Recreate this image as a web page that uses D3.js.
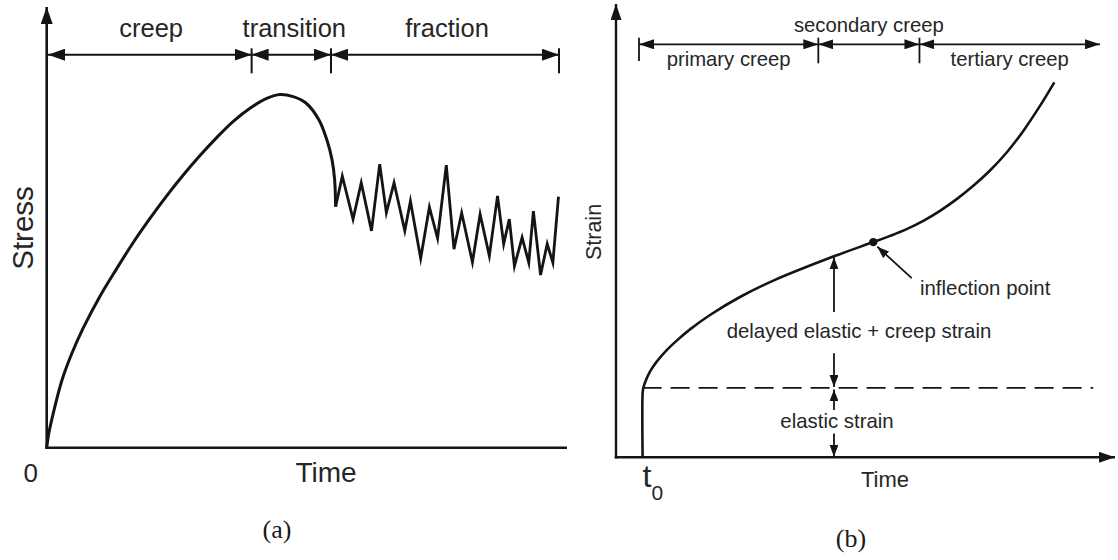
<!DOCTYPE html>
<html>
<head>
<meta charset="utf-8">
<title>Creep behaviour: stress and strain versus time</title>
<script src="https://cdn.jsdelivr.net/npm/d3@7/dist/d3.min.js"></script>
<style>
  html, body { margin: 0; padding: 0; background: #fff; }
  svg { display: block; }
  text { font-family: "Liberation Sans", Arial, Helvetica, sans-serif; fill: #262626; }
  text.serif { font-family: "Liberation Serif", "DejaVu Serif", serif; fill: #1a1a1a; }
</style>
</head>
<body>
<svg id="chart" width="1118" height="560"></svg>
<script>
// ---------------- data: panel (a) stress vs. time ----------------
// smooth rise to peak and drop into the fracture regime  [time, stress]
const stressRise = [
  [0, 0], [0.45, 4.4], [1.29, 9.8], [2.93, 18.9], [4.94, 26.8], [7.14, 33.9],
  [10.40, 42.9], [13.66, 50.7], [16.90, 58.1], [20.16, 64.9], [23.42, 71.3],
  [26.66, 77.2], [29.92, 82.7], [33.18, 87.8], [36.42, 92.4], [39.68, 96.1],
  [42.94, 98.9], [45.54, 100], [48.1, 99.4], [50.6, 97.6], [53.15, 92.8],
  [54.7, 87.1], [55.7, 81.5], [56.2, 75.9], [56.4, 68.2]
];
// saw-tooth stress during fracture  [time, stress]
const stressFracture = [
  [56.4, 68.2], [57.7, 76.9], [59.8, 64.7], [61.4, 75.0], [63.4, 61.4],
  [65.0, 80.3], [66.3, 66.5], [67.8, 75.0], [69.9, 61.4], [71.0, 69.8],
  [73.0, 53.6], [74.7, 68.1], [76.3, 59.3], [78.0, 80.0], [79.5, 56.2],
  [81.0, 66.5], [83.1, 52.5], [84.6, 66.1], [86.4, 54.3], [88.0, 71.3],
  [89.2, 57.7], [90.3, 64.7], [91.3, 51.4], [92.8, 59.5], [94.1, 52.4],
  [95.0, 67.0], [96.4, 48.9], [97.7, 57.7], [98.8, 52.4], [99.9, 71.1]
];
const stageBoundsA = [0, 40, 55.5, 100];
const stageLabelsA = ["creep", "transition", "fraction"];

// ---------------- data: panel (b) strain vs. time ----------------
const t0 = 5.5;
const elasticStrain = 18.4;
// creep curve  [time, strain]
const strainCurve = [
  [5.5, 0], [5.5, 17.0], [5.64, 18.37], [6.20, 20.49], [7.02, 22.71],
  [8.41, 25.36], [10.48, 28.41], [12.54, 30.93], [15.29, 33.90], [19.42, 37.72],
  [25.62, 42.49], [32.85, 47.02], [45.04, 53.27], [53.16, 57.04], [56.61, 58.68],
  [60.06, 60.48], [63.49, 62.68], [66.94, 65.33], [70.39, 68.43], [73.82, 71.96],
  [77.27, 76.01], [80.72, 80.78], [84.15, 86.51], [87.60, 93.14], [90.56, 99.39]
];
const inflectionPoint = [53.16, 57.04];
const annotationTime = 45.04;
const stageBoundsB = [4.75, 41.8, 62.7, 100];
const stageLabelsB = ["primary creep", "secondary creep", "tertiary creep"];

// ---------------- drawing ----------------
const INK = "#141414";
const svg = d3.select("#chart");
const defs = svg.append("defs");

function arrowMarker(id, len, wid) {
  defs.append("marker")
    .attr("id", id)
    .attr("viewBox", `0 ${-wid / 2} ${len} ${wid}`)
    .attr("refX", len).attr("refY", 0)
    .attr("markerWidth", len).attr("markerHeight", wid)
    .attr("markerUnits", "userSpaceOnUse")
    .attr("orient", "auto-start-reverse")
    .append("path")
    .attr("d", `M0,${-wid / 2}L${len},0L0,${wid / 2}Z`)
    .attr("fill", INK);
}
arrowMarker("ahA", 17, 12);
arrowMarker("ahB", 15, 10);
arrowMarker("ahAxisB", 16, 11);
arrowMarker("ahSmall", 12, 9);

function seg(g, x1, y1, x2, y2, w, opts = {}) {
  const l = g.append("line")
    .attr("x1", x1).attr("y1", y1).attr("x2", x2).attr("y2", y2)
    .attr("stroke", INK).attr("stroke-width", w);
  if (opts.start) l.attr("marker-start", `url(#${opts.start})`);
  if (opts.end) l.attr("marker-end", `url(#${opts.end})`);
  if (opts.dash) l.attr("stroke-dasharray", opts.dash);
  return l;
}

// ===== panel (a) =====
const xA = d3.scaleLinear().domain([0, 100]).range([46.7, 559]);
const yA = d3.scaleLinear().domain([0, 100]).range([447.7, 94.5]);
const gA = svg.append("g");

// axes
seg(gA, xA(0), yA(0) + 1.3, xA(0), 7, 2.6, { end: "ahA" });
seg(gA, xA(0) - 1.3, yA(0), xA.range()[1] + 8, yA(0), 2.6);

// stage dimension line
const dimYA = 54.7;
stageLabelsA.forEach((lab, i) => {
  const a = xA(stageBoundsA[i]), b = xA(stageBoundsA[i + 1]);
  seg(gA, a + (i === 0 ? 1.3 : 0), dimYA, b, dimYA, 2, { start: "ahA", end: "ahA" });
  gA.append("text")
    .attr("x", (a + b) / 2 + (i === 1 ? 3 : 2)).attr("y", 36.5)
    .attr("text-anchor", "middle")
    .attr("font-size", 25.5)
    .text(lab);
});
stageBoundsA.slice(1).forEach(t => seg(gA, xA(t), 48.3, xA(t), 73.3, 2));

// curves
gA.append("path").datum(stressRise)
  .attr("d", d3.line().x(d => xA(d[0])).y(d => yA(d[1])).curve(d3.curveCatmullRom.alpha(0.5)))
  .attr("fill", "none").attr("stroke", INK).attr("stroke-width", 3);
gA.append("path").datum(stressFracture)
  .attr("d", d3.line().x(d => xA(d[0])).y(d => yA(d[1])))
  .attr("fill", "none").attr("stroke", INK).attr("stroke-width", 2.8)
  .attr("stroke-linejoin", "miter").attr("stroke-miterlimit", 6);

// labels
gA.append("text").attr("transform", "translate(33.3,228) rotate(-90)")
  .attr("text-anchor", "middle").attr("font-size", 29.5).text("Stress");
gA.append("text").attr("x", 30.7).attr("y", 481.7)
  .attr("text-anchor", "middle").attr("font-size", 26).text("0");
gA.append("text").attr("x", 326).attr("y", 481.7)
  .attr("text-anchor", "middle").attr("font-size", 28).text("Time");
gA.append("text").attr("class", "serif").attr("x", 277).attr("y", 538)
  .attr("text-anchor", "middle").attr("font-size", 26).text("(a)");

// ===== panel (b) =====
const xB = d3.scaleLinear().domain([0, 100]).range([616, 1100]);
const yB = d3.scaleLinear().domain([0, 100]).range([457.3, 80]);
const gB = svg.append("g");

// axes
seg(gB, xB(0), yB(0) + 1.2, xB(0), 4, 2.4, { end: "ahAxisB" });
seg(gB, xB(0) - 1.2, yB(0), 1115, yB(0), 2.4, { end: "ahAxisB" });

// stage dimension line
const dimYB = 44.3;
stageLabelsB.forEach((lab, i) => {
  const a = xB(stageBoundsB[i]), b = xB(stageBoundsB[i + 1]);
  seg(gB, a, dimYB, b, dimYB, 1.8, { start: "ahB", end: "ahB" });
  gB.append("text")
    .attr("x", (a + b) / 2).attr("y", i === 1 ? 31.7 : 65.7)
    .attr("text-anchor", "middle")
    .attr("font-size", 20.3)
    .text(lab);
});
stageBoundsB.slice(0, 3).forEach((t, i) =>
  seg(gB, xB(t), 37.7, xB(t), i === 0 ? 61 : 63.3, 1.8));

// elastic strain level (dashed)
seg(gB, xB(t0), yB(elasticStrain), xB(98.6), yB(elasticStrain), 1.8, { dash: "19,9" });

// strain curve
gB.append("path").datum(strainCurve)
  .attr("d", d3.line().x(d => xB(d[0])).y(d => yB(d[1])).curve(d3.curveCatmullRom.alpha(0.5)))
  .attr("fill", "none").attr("stroke", INK).attr("stroke-width", 2.6);

// inflection point
const ix = xB(inflectionPoint[0]), iy = yB(inflectionPoint[1]);
gB.append("circle").attr("cx", ix).attr("cy", iy).attr("r", 4.2).attr("fill", INK);
seg(gB, ix + 38.4, iy + 36, ix + 4, iy + 4.6, 1.8, { end: "ahSmall" });
gB.append("text").attr("x", ix + 46.7).attr("y", iy + 52.7)
  .attr("font-size", 20.4).text("inflection point");

// strain components at the annotation time
const ax = xB(annotationTime);
const curveAtAnn = strainCurve.find(d => d[0] === annotationTime);
const yCurve = yB(curveAtAnn[1]);
const yElastic = yB(elasticStrain);
const yZero = yB(0);
const delayedBase = yElastic - 49.7;
seg(gB, ax, delayedBase - 26.3, ax, yCurve + 1, 1.8, { end: "ahSmall" });
seg(gB, ax, delayedBase + 15, ax, yElastic - 1, 1.8, { end: "ahSmall" });
gB.append("text").attr("x", ax + 25).attr("y", delayedBase)
  .attr("text-anchor", "middle").attr("font-size", 20.4)
  .text("delayed elastic + creep strain");

const elasticBase = yElastic + 40.5;
seg(gB, ax, elasticBase - 18.3, ax, yElastic + 1.5, 1.8, { end: "ahSmall" });
seg(gB, ax, elasticBase + 5, ax, yZero - 0.6, 1.8, { end: "ahSmall" });
gB.append("text").attr("x", ax + 3).attr("y", elasticBase)
  .attr("text-anchor", "middle").attr("font-size", 20.4).text("elastic strain");

// labels
gB.append("text").attr("transform", "translate(601,232) rotate(-90)")
  .attr("text-anchor", "middle").attr("font-size", 21.5).text("Strain");
gB.append("text").attr("x", 885).attr("y", 486.5)
  .attr("text-anchor", "middle").attr("font-size", 22).text("Time");
const t0Label = gB.append("text").attr("x", xB(t0)).attr("y", 486.7).attr("font-size", 32);
t0Label.append("tspan").text("t");
t0Label.append("tspan").attr("font-size", 21).attr("dy", 13).text("0");
gB.append("text").attr("class", "serif").attr("x", 851).attr("y", 547)
  .attr("text-anchor", "middle").attr("font-size", 26).text("(b)");
</script>
</body>
</html>
